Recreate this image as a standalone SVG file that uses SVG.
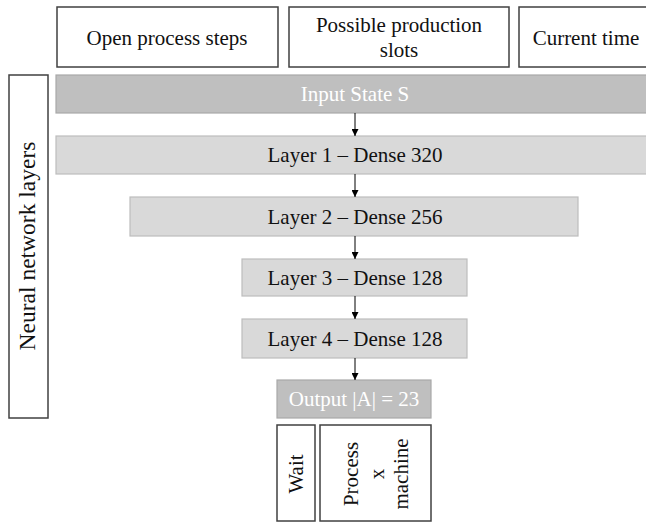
<svg xmlns="http://www.w3.org/2000/svg" width="646" height="522" viewBox="0 0 646 522">
<style>
  text { font-family: "Liberation Serif", "Times New Roman", serif; font-size: 21px; fill: #111; text-anchor: middle; }
  .box { fill: #ffffff; stroke: #404040; stroke-width: 1.5; }
  .dark { fill: #bfbfbf; stroke: #a9a9a9; stroke-width: 1.2; }
  .light { fill: #d9d9d9; stroke: #bdbdbd; stroke-width: 1.2; }
  .wt { fill: #ffffff; }
  .conn line { stroke: #000; stroke-width: 1; }
</style>
<defs>
  <marker id="ah" viewBox="0 0 10 10" refX="10" refY="5" markerWidth="7" markerHeight="7" markerUnits="userSpaceOnUse" orient="auto">
    <path d="M0,0 L10,5 L0,10 z" fill="#000"/>
  </marker>
</defs>
<rect width="646" height="522" fill="#ffffff"/>

<g id="open-process-steps">
  <rect class="box" x="57" y="7" width="221" height="60"/>
  <text x="167" y="45">Open process steps</text>
</g>
<g id="possible-production-slots">
  <rect class="box" x="289" y="7" width="220" height="60"/>
  <text x="399" y="32">Possible production</text>
  <text x="399" y="57">slots</text>
</g>
<g id="current-time">
  <rect class="box" x="519" y="7" width="136" height="60"/>
  <text x="586" y="45">Current time</text>
</g>

<g id="nn-label">
  <rect class="box" x="9" y="75" width="39" height="343"/>
  <text transform="translate(35,246) rotate(-90)" style="font-size:23.5px">Neural network layers</text>
</g>

<g id="input-state">
  <rect class="dark" x="56" y="75" width="600" height="38"/>
  <text class="wt" x="355" y="101">Input State S</text>
</g>
<g id="layer1">
  <rect class="light" x="56" y="136" width="600" height="38"/>
  <text x="355" y="162">Layer 1 – Dense 320</text>
</g>
<g id="layer2">
  <rect class="light" x="130" y="197" width="448" height="39"/>
  <text x="355" y="224">Layer 2 – Dense 256</text>
</g>
<g id="layer3">
  <rect class="light" x="242" y="259" width="225" height="37"/>
  <text x="355" y="285">Layer 3 – Dense 128</text>
</g>
<g id="layer4">
  <rect class="light" x="242" y="319" width="225" height="39"/>
  <text x="355" y="346">Layer 4 – Dense 128</text>
</g>
<g id="output">
  <rect class="dark" x="277" y="380" width="154" height="38"/>
  <text class="wt" x="354" y="406">Output |A| = 23</text>
</g>

<g id="wait">
  <rect class="box" x="277" y="425" width="38" height="96"/>
  <text transform="translate(303,474) rotate(-90)">Wait</text>
</g>
<g id="process-machine">
  <rect class="box" x="320" y="425" width="111" height="96"/>
  <text transform="translate(358,474) rotate(-90)">Process</text>
  <text transform="translate(384,474) rotate(-90)">x</text>
  <text transform="translate(408,474) rotate(-90)">machine</text>
</g>

<g class="conn" id="connectors">
  <line x1="355" y1="113" x2="355" y2="136" marker-end="url(#ah)"/>
  <line x1="355" y1="174" x2="355" y2="197" marker-end="url(#ah)"/>
  <line x1="355" y1="236" x2="355" y2="259" marker-end="url(#ah)"/>
  <line x1="355" y1="296" x2="355" y2="319" marker-end="url(#ah)"/>
  <line x1="355" y1="358" x2="355" y2="380" marker-end="url(#ah)"/>
</g>
</svg>
